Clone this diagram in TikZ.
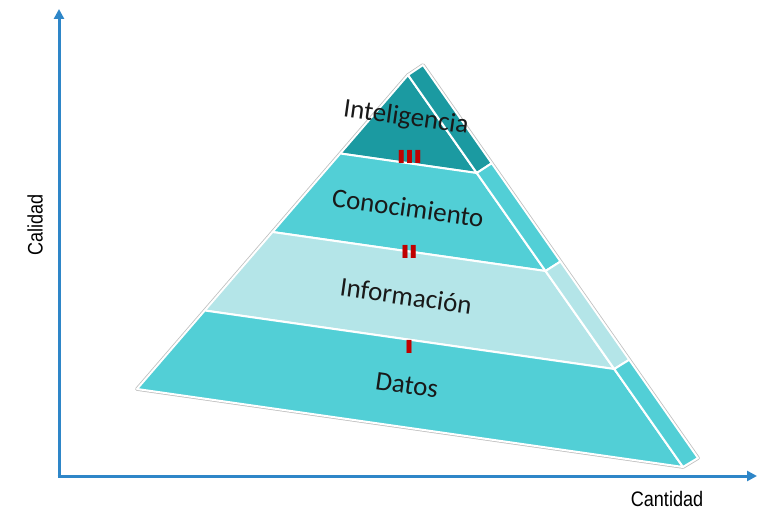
\documentclass[tikz,border=0pt]{standalone}
\usepackage{fontspec}
\setmainfont{Carlito}
\newfontfamily\axisfont{Liberation Sans}
\usetikzlibrary{calc,arrows.meta}
\definecolor{axisblue}{HTML}{2E86C8}
\definecolor{tealdark}{HTML}{1B9AA1}
\definecolor{tealmid}{HTML}{52CFD6}
\definecolor{teallight}{HTML}{B4E5E8}
\definecolor{numred}{HTML}{C00000}
\tikzset{
  face/.style={draw=white, line width=2pt, line join=round},
  bandlabel/.style={font=\fontsize{27}{30}\selectfont, text=black!90, rotate=-8, inner sep=0pt},
  numeral/.style={font=\axisfont\bfseries\fontsize{19}{19}\selectfont, text=numred, inner sep=0pt},
  axislabel/.style={font=\axisfont\fontsize{21}{24}\selectfont, inner sep=0pt},
  axisline/.style={draw=axisblue, line width=3pt, -{Triangle[length=10pt,width=10pt]}}
}
\newcommand{\narrowtxt}[1]{\scalebox{0.86}[1]{#1}}
\newcommand{\widenum}[1]{\scalebox{1.8}[1]{#1}}
\newcommand{\nk}{\kern-0.7pt}
\begin{document}
\begin{tikzpicture}[x=1pt,y=-1pt]
\useasboundingbox (0,0) rectangle (757,510);
% key points
\coordinate (A) at (408,75);
\coordinate (L) at (137,389);
\coordinate (R) at (683,467);
\coordinate (S) at (423,65);
\coordinate (T) at (698,458);
\coordinate (L1) at ($(A)!0.25!(L)$);
\coordinate (L2) at ($(A)!0.5!(L)$);
\coordinate (L3) at ($(A)!0.75!(L)$);
\coordinate (R1) at ($(A)!0.25!(R)$);
\coordinate (R2) at ($(A)!0.5!(R)$);
\coordinate (R3) at ($(A)!0.75!(R)$);
\coordinate (S1) at ($(S)!0.25!(T)$);
\coordinate (S2) at ($(S)!0.5!(T)$);
\coordinate (S3) at ($(S)!0.75!(T)$);
% outer shadow outline
\draw[draw=black!25, line width=3.6pt, line join=round] (L) -- (A) -- (S) -- (T) -- (R) -- cycle;
% front bands
\filldraw[face, fill=tealdark] (A) -- (L1) -- (R1) -- cycle;
\filldraw[face, fill=tealmid] (L1) -- (L2) -- (R2) -- (R1) -- cycle;
\filldraw[face, fill=teallight] (L2) -- (L3) -- (R3) -- (R2) -- cycle;
\filldraw[face, fill=tealmid] (L3) -- (L) -- (R) -- (R3) -- cycle;
% side bands
\filldraw[face, fill=tealdark] (A) -- (S) -- (S1) -- (R1) -- cycle;
\filldraw[face, fill=tealmid] (R1) -- (S1) -- (S2) -- (R2) -- cycle;
\filldraw[face, fill=teallight] (R2) -- (S2) -- (S3) -- (R3) -- cycle;
\filldraw[face, fill=tealmid] (R3) -- (S3) -- (T) -- (R) -- cycle;
% labels
\node[bandlabel] (intel) at (406,118) {Inteligencia};
\node[bandlabel] (conoc) at (408,208) {Conocimiento};
\node[bandlabel] (info) at (406,296) {Información};
\node[bandlabel] (datos) at (407,385) {Datos};
\node[numeral] (n3) at (409.7,157) {\widenum{I\nk I\nk I}};
\node[numeral] (n2) at (409.3,252) {\widenum{I\nk I}};
\node[numeral] (n1) at (409,347) {\widenum{I}};
% axes
\coordinate (O) at (59,476);
\coordinate (Ytop) at (59,9);
\coordinate (Xend) at (757,476);
\draw[axisline] (O) -- (Ytop);
\draw[axisline] ([xshift=-1.5pt]O) -- (Xend);
\node[axislabel, rotate=90] (cal) at (35,225) {\narrowtxt{Calidad}};
\node[axislabel] (cant) at (667,499) {\narrowtxt{Cantidad}};
\end{tikzpicture}
\end{document}
